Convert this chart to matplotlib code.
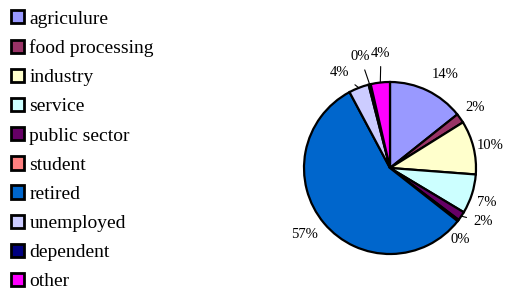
import numpy as np
import matplotlib.pyplot as plt

plt.rcParams['font.family'] = ['Liberation Serif', 'DejaVu Serif']

categories = ['agriculure', 'food processing', 'industry', 'service', 'public sector',
              'student', 'retired', 'unemployed', 'dependent', 'other']
shares = [14.3, 1.8, 10.1, 7.4, 1.7, 0.3, 56.6, 3.8, 0.4, 3.6]
colors = ['#9999FF', '#993366', '#FFFFCC', '#CCFFFF', '#660066',
          '#FF8080', '#0066CC', '#CCCCFF', '#000080', '#FF00FF']

# label placement: (radius, angle shift from wedge middle in deg, leader line)
label_pos = [(1.26, -5, False), (1.21, 0, False), (1.2, -1, False), (1.19, -2, False),
             (1.25, 4, True), (1.17, -8, False), (1.26, -2, False), (1.25, 6.6, True),
             (1.34, 1.3, True), (1.34, -2, True)]

fig = plt.figure(figsize=(5.05, 2.89), dpi=100)
W, H = 505, 289
cx, cy, r = 390, 168, 86
ax = fig.add_axes([(cx - r) / W, (H - cy - r) / H, 2 * r / W, 2 * r / H])

wedges, _ = ax.pie(shares, colors=colors, startangle=90, counterclock=False,
                   wedgeprops=dict(edgecolor='black', linewidth=1.6))
ax.set_xlim(-1, 1)
ax.set_ylim(-1, 1)
ax.set_aspect('equal')

total = sum(shares)
for w, v, (rad, shift, line) in zip(wedges, shares, label_pos):
    mid = np.deg2rad((w.theta1 + w.theta2) / 2)
    lab = np.deg2rad((w.theta1 + w.theta2) / 2 + shift)
    tx, ty = rad * np.cos(lab), rad * np.sin(lab)
    txt = f'{v / total * 100:.0f}%'
    if line:
        ax.annotate(txt, xy=(np.cos(mid), np.sin(mid)), xytext=(tx, ty),
                    ha='center', va='center', fontsize=10.5,
                    arrowprops=dict(arrowstyle='-', color='black', lw=0.8,
                                    shrinkA=3, shrinkB=0))
    else:
        ax.text(tx, ty, txt, ha='center', va='center', fontsize=10.5)

leg = fig.legend(wedges, categories, loc='upper left', bbox_to_anchor=(0.006, 0.992),
                 frameon=False, fontsize=14, handlelength=0.68, handleheight=0.68,
                 handletextpad=0.27, labelspacing=0.6, borderaxespad=0)
for h in leg.legend_handles:
    h.set_linewidth(2)

fig.savefig('out.png', dpi=100)
